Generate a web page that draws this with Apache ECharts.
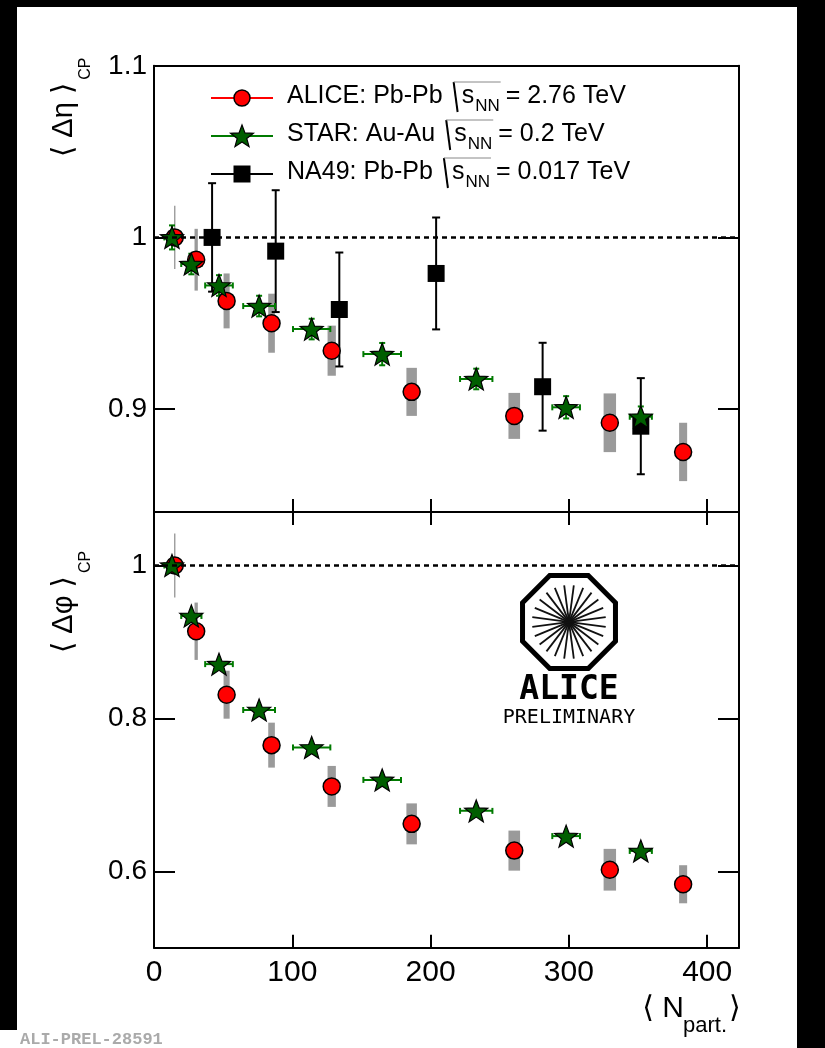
<!DOCTYPE html>
<html>
<head>
<meta charset="utf-8">
<script src="https://cdn.jsdelivr.net/npm/echarts@6.0.0/dist/echarts.min.js"></script>
<style>html,body{margin:0;padding:0;background:#fff;}</style>
</head>
<body>
<div id="main" style="width:825px;height:1048px;"></div>
<script type="text/javascript">
// axes
var xMin = 0, xMax = 423;
var xTicks = [0, 100, 200, 300, 400];
var etaMin = 0.84, etaMax = 1.1, etaTicks = [0.9, 1.0, 1.1];
var phiMin = 0.5, phiMax = 1.07, phiTicks = [0.6, 0.8, 1.0];

// ALICE Pb-Pb 2.76 TeV
var aliceNpart    = [15, 30.5, 52.5, 85, 128.5, 186.3, 260.5, 329.6, 382.6];
var aliceNpartErr = [0.5, 1.2, 2.2, 2.4, 3.0, 3.8, 4.2, 4.5, 2.9];
var aliceEta      = [1.000, 0.987, 0.963, 0.950, 0.934, 0.910, 0.896, 0.892, 0.875];
var aliceEtaStat  = [0.004, 0.003, 0.003, 0.003, 0.003, 0.003, 0.003, 0.003, 0.003];
var aliceEtaSys   = [0.0184, 0.018, 0.016, 0.0172, 0.0146, 0.014, 0.0134, 0.0171, 0.017];
var alicePhi      = [1.000, 0.914, 0.831, 0.765, 0.711, 0.662, 0.627, 0.602, 0.583];
var alicePhiStat  = [0.005, 0.004, 0.004, 0.004, 0.004, 0.004, 0.004, 0.004, 0.004];
var alicePhiSys   = [0.042, 0.0375, 0.0314, 0.0294, 0.0268, 0.0268, 0.0262, 0.0273, 0.0249];

// STAR Au-Au 0.2 TeV
var starNpart    = [13, 27, 47, 76, 114, 165, 233, 298, 352];
var starNpartErr = [5.5, 7.3, 10, 11.5, 13.5, 13.6, 11.7, 10, 8];
var starEta      = [1.000, 0.9845, 0.972, 0.960, 0.9466, 0.932, 0.9175, 0.901, 0.8955];
var starEtaErr   = [0.007, 0.006, 0.006, 0.006, 0.006, 0.0065, 0.006, 0.0065, 0.006];
var starPhi      = [1.000, 0.934, 0.871, 0.811, 0.762, 0.7195, 0.679, 0.646, 0.6266];
var starPhiErr   = [0.003, 0.003, 0.003, 0.003, 0.003, 0.003, 0.003, 0.003, 0.003];

// NA49 Pb-Pb 0.017 TeV
var na49Npart  = [42, 88, 134, 204, 281, 352];
var na49Eta    = [1.000, 0.992, 0.958, 0.979, 0.913, 0.890];
var na49EtaErr = [0.0316, 0.0355, 0.0332, 0.0326, 0.0256, 0.028];

var legendLabels   = ['ALICE: Pb-Pb', 'STAR: Au-Au', 'NA49: Pb-Pb'];
var legendEnergies = ['= 2.76 TeV', '= 0.2 TeV', '= 0.017 TeV'];

var FONT = '"Liberation Sans", "DejaVu Sans", sans-serif';
var RED = '#ff0000', GREEN = '#007a00', STARFILL = '#005e00';

var chart = echarts.init(document.getElementById('main'));

var ctx = document.createElement('canvas').getContext('2d');
function tw(text, size) {
    ctx.font = size + 'px ' + FONT;
    return ctx.measureText(text).width;
}

function starPts(cx, cy, R) {
    var pts = [];
    for (var k = 0; k < 10; k++) {
        var r = k % 2 ? R * 0.42 : R;
        var a = -Math.PI / 2 + k * Math.PI / 5;
        pts.push([cx + r * Math.cos(a), cy + r * Math.sin(a)]);
    }
    return pts;
}
var starSymbol = 'path://' + starPts(50, 50, 50).map(function (p, i) {
    return (i ? 'L' : 'M') + p[0].toFixed(2) + ' ' + p[1].toFixed(2);
}).join(' ') + ' Z';

function rows4(xs, ys, ex, ey) {
    return xs.map(function (x, i) { return [x, ys[i], ex ? ex[i] : 0, ey ? ey[i] : 0]; });
}
function pts2(xs, ys) {
    return xs.map(function (x, i) { return [x, ys[i]]; });
}

function errorBars(color, cap) {
    return function (params, api) {
        var x = api.value(0), y = api.value(1), ex = api.value(2), ey = api.value(3);
        var st = { stroke: color, lineWidth: 2 };
        var kids = [];
        if (ey > 0) {
            var a = api.coord([x, y + ey]), b = api.coord([x, y - ey]);
            kids.push({ type: 'line', shape: { x1: a[0], y1: a[1], x2: b[0], y2: b[1] }, style: st });
            if (cap) {
                kids.push({ type: 'line', shape: { x1: a[0] - cap, y1: a[1], x2: a[0] + cap, y2: a[1] }, style: st });
                kids.push({ type: 'line', shape: { x1: b[0] - cap, y1: b[1], x2: b[0] + cap, y2: b[1] }, style: st });
            }
        }
        if (ex > 0) {
            var l = api.coord([x - ex, y]), r = api.coord([x + ex, y]);
            kids.push({ type: 'line', shape: { x1: l[0], y1: l[1], x2: r[0], y2: r[1] }, style: st });
            if (cap) {
                kids.push({ type: 'line', shape: { x1: l[0], y1: l[1] - cap, x2: l[0], y2: l[1] + cap }, style: st });
                kids.push({ type: 'line', shape: { x1: r[0], y1: r[1] - cap, x2: r[0], y2: r[1] + cap }, style: st });
            }
        }
        return { type: 'group', children: kids };
    };
}

function sysBoxes(params, api) {
    var x = api.value(0), y = api.value(1), ex = api.value(2), ey = api.value(3);
    var a = api.coord([x - ex, y + ey]), b = api.coord([x + ex, y - ey]);
    var w = Math.max(b[0] - a[0], 1.3);
    return { type: 'rect', shape: { x: (a[0] + b[0]) / 2 - w / 2, y: a[1], width: w, height: b[1] - a[1] }, style: { fill: '#9a9a9a' } };
}

function fmt(v) { return String(+(+v).toFixed(2)); }

function xAx(grid, pos, showLabel) {
    return {
        type: 'value', gridIndex: grid, position: pos, min: xMin, max: xMax,
        axisLine: { show: true, onZero: false, lineStyle: { color: '#000', width: 2 } },
        axisTick: { show: true, inside: true, length: 13, customValues: xTicks, lineStyle: { color: '#000', width: 2 } },
        axisLabel: { show: showLabel, customValues: xTicks, margin: 10, color: '#000', fontSize: 30, fontFamily: FONT },
        splitLine: { show: false }
    };
}
function xAxNoTick(grid, pos) {
    var a = xAx(grid, pos, false);
    a.axisTick.show = false;
    return a;
}
function yAx(grid, pos, min, max, ticks, showLabel) {
    return {
        type: 'value', gridIndex: grid, position: pos, min: min, max: max,
        axisLine: { show: true, onZero: false, lineStyle: { color: '#000', width: 2 } },
        axisTick: { show: true, inside: true, length: 21, customValues: ticks, lineStyle: { color: '#000', width: 2 } },
        axisLabel: { show: showLabel, customValues: ticks, formatter: fmt, margin: 7, color: '#000', fontSize: 28, fontFamily: FONT },
        splitLine: { show: false }
    };
}

function unity(xi, yi) {
    return {
        type: 'line', xAxisIndex: xi, yAxisIndex: yi, data: [[xMin, 1], [xMax, 1]],
        symbol: 'none', silent: true, lineStyle: { color: '#000', width: 2.5, type: [5, 4] }
    };
}
function custom(xi, yi, data, fn) {
    return { type: 'custom', xAxisIndex: xi, yAxisIndex: yi, data: data, renderItem: fn, encode: { x: 0, y: 1 }, silent: true };
}
function scatter(xi, yi, data, symbol, size, color, bw) {
    return {
        type: 'scatter', xAxisIndex: xi, yAxisIndex: yi, data: data, symbol: symbol, symbolSize: size,
        symbolKeepAspect: true, silent: true,
        itemStyle: { color: color, borderColor: '#000', borderWidth: bw, opacity: 1 }
    };
}

// legend, titles, logo built as graphics
var graphics = [];
graphics.push({ type: 'rect', shape: { x: 0, y: 0, width: 825, height: 7 }, style: { fill: '#000' } });
graphics.push({ type: 'rect', shape: { x: 0, y: 0, width: 17, height: 1030 }, style: { fill: '#000' } });
graphics.push({ type: 'rect', shape: { x: 797, y: 0, width: 28, height: 1048 }, style: { fill: '#000' } });

var legendY = [96, 134, 172];
legendLabels.forEach(function (lab, i) {
    var cy = legendY[i];
    var col = [RED, GREEN, '#000'][i];
    graphics.push({ type: 'line', shape: { x1: 211, y1: cy + 2, x2: 273, y2: cy + 2 }, style: { stroke: col, lineWidth: 2 } });
    if (i === 0) {
        graphics.push({ type: 'circle', shape: { cx: 242, cy: cy + 2, r: 8 }, style: { fill: RED, stroke: '#000', lineWidth: 1.5 } });
    } else if (i === 1) {
        graphics.push({ type: 'polygon', shape: { points: starPts(242, cy + 3, 12) }, style: { fill: STARFILL, stroke: '#000', lineWidth: 1.2 } });
    } else {
        graphics.push({ type: 'rect', shape: { x: 233.5, y: cy - 6.5, width: 17, height: 17 }, style: { fill: '#000' } });
    }
    var x0 = 287;
    graphics.push({ type: 'text', x: x0, y: cy, style: { text: lab, fontSize: 25, fontFamily: FONT, fill: '#000', verticalAlign: 'middle' } });
    var sx = x0 + tw(lab, 25) + 11;
    var s0 = sx + 8;
    var n0 = s0 + tw('s', 25) + 1;
    var n1 = n0 + tw('NN', 17);
    graphics.push({ type: 'line', shape: { x1: sx, y1: cy - 14, x2: sx + 4, y2: cy + 16 }, style: { stroke: '#000', lineWidth: 2 } });
    graphics.push({ type: 'line', shape: { x1: sx, y1: cy - 14, x2: n1 + 1, y2: cy - 14 }, style: { stroke: '#888', lineWidth: 1 } });
    graphics.push({ type: 'text', x: s0, y: cy, style: { text: 's', fontSize: 25, fontFamily: FONT, fill: '#000', verticalAlign: 'middle' } });
    graphics.push({ type: 'text', x: n0, y: cy + 10, style: { text: 'NN', fontSize: 17, fontFamily: FONT, fill: '#000', verticalAlign: 'middle' } });
    graphics.push({ type: 'text', x: n1 + 6, y: cy, style: { text: legendEnergies[i], fontSize: 25, fontFamily: FONT, fill: '#000', verticalAlign: 'middle' } });
});

function yTitle(x, yStart, main, sub) {
    var w = tw(main, 29);
    return {
        type: 'group', x: x, y: yStart, rotation: Math.PI / 2, children: [
            { type: 'text', x: 0, y: 0, style: { text: main, fontSize: 29, fontFamily: FONT, fill: '#000', verticalAlign: 'middle' } },
            { type: 'text', x: w + 3, y: 22, style: { text: sub, fontSize: 16, fontFamily: FONT, fill: '#000', verticalAlign: 'middle' } }
        ]
    };
}
graphics.push(yTitle(64, 157, '\u27e8 \u0394\u03b7 \u27e9', 'CP'));
graphics.push(yTitle(64, 653, '\u27e8 \u0394\u03c6 \u27e9', 'CP'));

graphics.push({ type: 'text', x: 684, y: 1009, style: { text: '\u27e8 N', fontSize: 30, fontFamily: FONT, fill: '#000', align: 'right', verticalAlign: 'middle' } });
graphics.push({ type: 'text', x: 683, y: 1026, style: { text: 'part.', fontSize: 22, fontFamily: FONT, fill: '#000', verticalAlign: 'middle' } });
graphics.push({ type: 'text', x: 729, y: 1009, style: { text: '\u27e9', fontSize: 30, fontFamily: FONT, fill: '#000', verticalAlign: 'middle' } });

graphics.push({ type: 'text', x: 20, y: 1040, style: { text: 'ALI-PREL-28591', fontSize: 17, fontWeight: 'bold', fontFamily: '"Liberation Mono", monospace', fill: '#aaaaaa', verticalAlign: 'middle' } });

// ALICE logo
var logo = [];
var oct = [];
for (var k = 0; k < 8; k++) {
    var a = Math.PI / 8 + k * Math.PI / 4;
    oct.push([50.3 * Math.cos(a), 50.3 * Math.sin(a)]);
}
logo.push({ type: 'polygon', shape: { points: oct }, style: { fill: 'none', stroke: '#000', lineWidth: 5 } });
for (var s = 0; s < 12; s++) {
    var t = s * Math.PI / 12 + Math.PI / 24;
    logo.push({ type: 'line', shape: { x1: -37 * Math.cos(t), y1: -37 * Math.sin(t), x2: 37 * Math.cos(t), y2: 37 * Math.sin(t) }, style: { stroke: '#111', lineWidth: 1.8 } });
}
graphics.push({ type: 'group', x: 569, y: 622, children: logo });
graphics.push({ type: 'text', x: 569, y: 690, style: { text: 'ALICE', fontSize: 33, fontWeight: 'bold', fontFamily: '"DejaVu Sans Mono", monospace', fill: '#000', align: 'center', verticalAlign: 'middle' } });
graphics.push({ type: 'text', x: 569, y: 718, style: { text: 'PRELIMINARY', fontSize: 20, fontFamily: '"DejaVu Sans Mono", monospace', fill: '#000', align: 'center', verticalAlign: 'middle' } });

chart.setOption({
    animation: false,
    backgroundColor: '#fff',
    grid: [
        { left: 154, top: 65.8, width: 585, height: 446.2, outerBoundsMode: 'none' },
        { left: 154, top: 512, width: 585, height: 435.7, outerBoundsMode: 'none' }
    ],
    xAxis: [
        xAx(0, 'bottom', false),
        xAxNoTick(0, 'top'),
        xAx(1, 'bottom', true),
        xAx(1, 'top', false)
    ],
    yAxis: [
        yAx(0, 'left', etaMin, etaMax, etaTicks, true),
        yAx(0, 'right', etaMin, etaMax, etaTicks, false),
        yAx(1, 'left', phiMin, phiMax, phiTicks, true),
        yAx(1, 'right', phiMin, phiMax, phiTicks, false)
    ],
    graphic: { elements: graphics },
    series: [
        unity(0, 0),
        custom(0, 0, rows4(aliceNpart, aliceEta, aliceNpartErr, aliceEtaSys), sysBoxes),
        custom(0, 0, rows4(aliceNpart, aliceEta, null, aliceEtaStat), errorBars(RED, 0)),
        scatter(0, 0, pts2(aliceNpart, aliceEta), 'circle', 17, RED, 1.5),
        custom(0, 0, rows4(na49Npart, na49Eta, null, na49EtaErr), errorBars('#000', 4)),
        scatter(0, 0, pts2(na49Npart, na49Eta), 'rect', 17, '#000', 0),
        custom(0, 0, rows4(starNpart, starEta, starNpartErr, starEtaErr), errorBars(GREEN, 3)),
        scatter(0, 0, pts2(starNpart, starEta), starSymbol, 23, STARFILL, 1.2),

        unity(2, 2),
        custom(2, 2, rows4(aliceNpart, alicePhi, aliceNpartErr, alicePhiSys), sysBoxes),
        custom(2, 2, rows4(aliceNpart, alicePhi, null, alicePhiStat), errorBars(RED, 0)),
        scatter(2, 2, pts2(aliceNpart, alicePhi), 'circle', 17, RED, 1.5),
        custom(2, 2, rows4(starNpart, starPhi, starNpartErr, starPhiErr), errorBars(GREEN, 3)),
        scatter(2, 2, pts2(starNpart, starPhi), starSymbol, 23, STARFILL, 1.2)
    ]
});
</script>
</body>
</html>
